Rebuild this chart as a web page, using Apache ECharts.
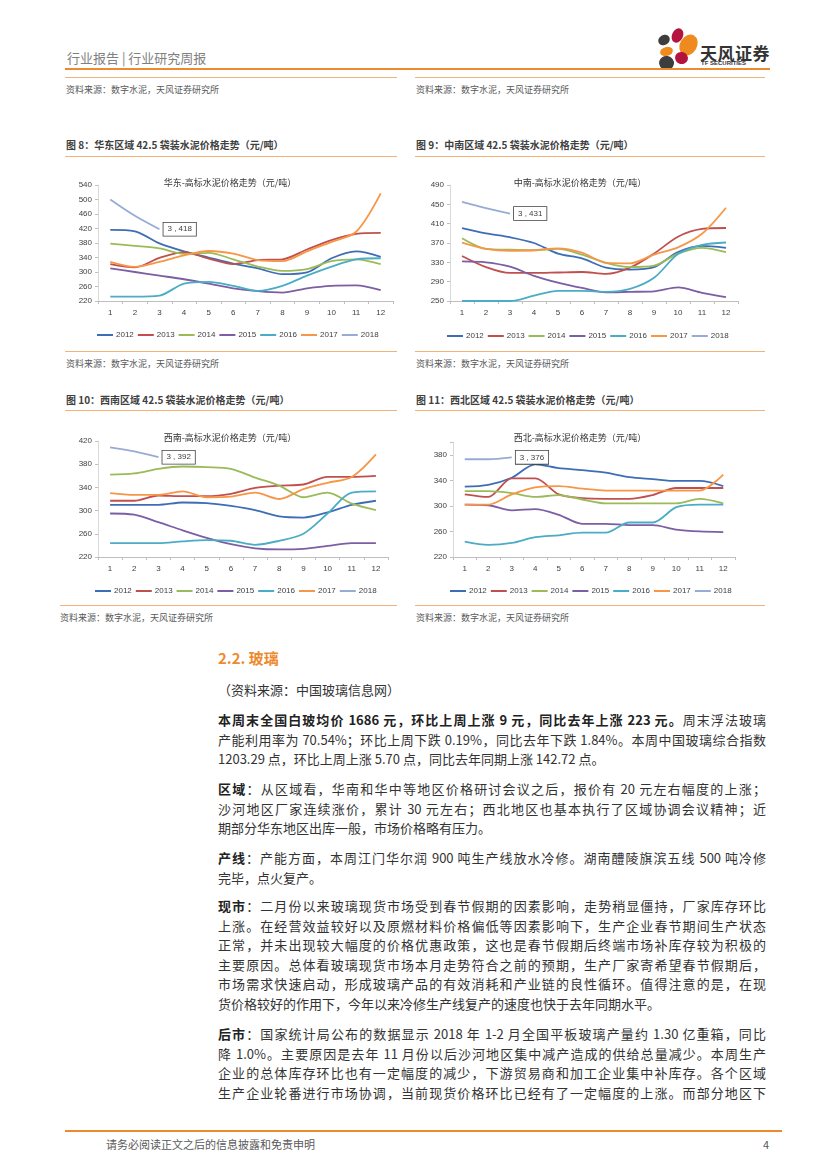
<!DOCTYPE html>
<html><head><meta charset="utf-8">
<script src="https://cdn.jsdelivr.net/npm/echarts@6/dist/echarts.min.js"></script>
<style>
body{margin:0;background:#fff;}
#page{position:relative;width:827px;height:1169px;overflow:hidden;font-family:"Noto Sans CJK SC","Noto Sans",sans-serif;color:#333;}
.abs{position:absolute;white-space:nowrap;}
.hl{position:absolute;height:0;border-top:1px solid #f2b27a;}
.src{font-size:9px;color:#595959;line-height:12px;}
.ftitle{font-size:10px;font-weight:bold;color:#404040;line-height:12px;}
.chart{position:absolute;width:340px;height:185px;}
.para{position:absolute;left:218px;width:548px;font-size:13px;line-height:19.6px;color:#333;}
.para div{text-align:justify;text-align-last:justify;height:19.6px;overflow:visible;}
.para div.last{text-align-last:left;}
.para b{color:#222;}
.petal{position:absolute;border-radius:50%;}
</style></head>
<body><div id="page">

<div class="abs" style="left:67px;top:48px;font-size:13px;color:#808080;">行业报告 | 行业研究周报</div>
<div class="petal" style="left:672px;top:28px;width:11px;height:15px;background:#b3133c;transform:rotate(25deg);"></div>
<div class="petal" style="left:658px;top:35px;width:12px;height:10px;background:#3d3d3d;transform:rotate(-30deg);"></div>
<div class="petal" style="left:680px;top:34px;width:17px;height:22px;background:#ee8a1e;transform:rotate(30deg);"></div>
<div class="petal" style="left:660px;top:47px;width:13px;height:9px;background:#ee8a1e;transform:rotate(-15deg);"></div>
<div class="petal" style="left:675px;top:52px;width:13px;height:12px;background:#b3133c;transform:rotate(20deg);"></div>
<div class="petal" style="left:659px;top:56px;width:15px;height:14px;background:#3d3d3d;transform:rotate(10deg);"></div>
<div class="abs" style="left:700px;top:40px;font-size:17px;font-weight:bold;color:#333;letter-spacing:0.5px;">天风证券</div>
<div class="abs" style="left:701px;top:60px;font-size:6px;font-weight:bold;color:#333;font-family:'Liberation Sans',Arial,sans-serif;">TF SECURITIES</div>
<div style="position:absolute;left:65px;top:68px;width:705px;height:2px;background:#ee8a2e;"></div>

<div class="hl" style="left:65px;top:77px;width:332px;"></div>
<div class="hl" style="left:415px;top:77px;width:350px;"></div>
<div class="abs src" style="left:66px;top:84px;">资料来源：数字水泥，天风证券研究所</div>
<div class="abs src" style="left:416px;top:84px;">资料来源：数字水泥，天风证券研究所</div>

<div class="abs ftitle" style="left:66px;top:139px;">图 8：华东区域 42.5 袋装水泥价格走势（元/吨）</div>
<div class="abs ftitle" style="left:416px;top:139px;">图 9：中南区域 42.5 袋装水泥价格走势（元/吨）</div>
<div class="hl" style="left:65px;top:156px;width:332px;"></div>
<div class="hl" style="left:415px;top:156px;width:350px;"></div>

<div id="c1" class="chart" style="left:60px;top:160px;"></div>
<div id="c2" class="chart" style="left:410px;top:160px;"></div>

<div class="hl" style="left:65px;top:351px;width:332px;"></div>
<div class="hl" style="left:415px;top:351px;width:350px;"></div>
<div class="abs src" style="left:66px;top:358px;">资料来源：数字水泥，天风证券研究所</div>
<div class="abs src" style="left:416px;top:358px;">资料来源：数字水泥，天风证券研究所</div>

<div class="abs ftitle" style="left:66px;top:394px;">图 10：西南区域 42.5 袋装水泥价格走势（元/吨）</div>
<div class="abs ftitle" style="left:416px;top:394px;">图 11：西北区域 42.5 袋装水泥价格走势（元/吨）</div>
<div class="hl" style="left:65px;top:410px;width:332px;"></div>
<div class="hl" style="left:415px;top:410px;width:350px;"></div>

<div id="c3" class="chart" style="left:60px;top:415px;"></div>
<div id="c4" class="chart" style="left:410px;top:415px;"></div>

<div class="hl" style="left:60px;top:605px;width:337px;"></div>
<div class="hl" style="left:415px;top:605px;width:350px;"></div>
<div class="abs src" style="left:60px;top:612px;">资料来源：数字水泥，天风证券研究所</div>
<div class="abs src" style="left:416px;top:612px;">资料来源：数字水泥，天风证券研究所</div>

<div class="abs" style="left:218px;top:647px;font-size:15px;font-weight:bold;color:#ee8a2e;">2.2. 玻璃</div>
<div class="abs" style="left:218px;top:680px;font-size:13px;color:#333;">（资料来源：中国玻璃信息网）</div>

<div class="para" style="top:710px;">
<div><b>本周末全国白玻均价 1686 元，环比上周上涨 9 元，同比去年上涨 223 元。</b>周末浮法玻璃</div>
<div>产能利用率为 70.54%；环比上周下跌 0.19%，同比去年下跌 1.84%。本周中国玻璃综合指数</div>
<div class="last">1203.29 点，环比上周上涨 5.70 点，同比去年同期上涨 142.72 点。</div>
</div>

<div class="para" style="top:779px;">
<div><b>区域</b>：从区域看，华南和华中等地区价格研讨会议之后，报价有 20 元左右幅度的上涨；</div>
<div>沙河地区厂家连续涨价，累计 30 元左右；西北地区也基本执行了区域协调会议精神；近</div>
<div class="last">期部分华东地区出库一般，市场价格略有压力。</div>
</div>

<div class="para" style="top:848px;">
<div><b>产线</b>：产能方面，本周江门华尔润 900 吨生产线放水冷修。湖南醴陵旗滨五线 500 吨冷修</div>
<div class="last">完毕，点火复产。</div>
</div>

<div class="para" style="top:896px;">
<div><b>现市</b>：二月份以来玻璃现货市场受到春节假期的因素影响，走势稍显僵持，厂家库存环比</div>
<div>上涨。在经营效益较好以及原燃材料价格偏低等因素影响下，生产企业春节期间生产状态</div>
<div>正常，并未出现较大幅度的价格优惠政策，这也是春节假期后终端市场补库存较为积极的</div>
<div>主要原因。总体看玻璃现货市场本月走势符合之前的预期，生产厂家寄希望春节假期后，</div>
<div>市场需求快速启动，形成玻璃产品的有效消耗和产业链的良性循环。值得注意的是，在现</div>
<div class="last">货价格较好的作用下，今年以来冷修生产线复产的速度也快于去年同期水平。</div>
</div>

<div class="para" style="top:1024px;">
<div><b>后市</b>：国家统计局公布的数据显示 2018 年 1-2 月全国平板玻璃产量约 1.30 亿重箱，同比</div>
<div>降 1.0%。主要原因是去年 11 月份以后沙河地区集中减产造成的供给总量减少。本周生产</div>
<div>企业的总体库存环比也有一定幅度的减少，下游贸易商和加工企业集中补库存。各个区域</div>
<div>生产企业轮番进行市场协调，当前现货价格环比已经有了一定幅度的上涨。而部分地区下</div>
</div>

<div style="position:absolute;left:65px;top:1130px;width:717px;height:2px;background:#ee8a2e;"></div>
<div class="abs" style="left:106px;top:1136px;font-size:11px;color:#595959;">请务必阅读正文之后的信息披露和免责申明</div>
<div class="abs" style="left:763px;top:1136px;font-size:11px;color:#595959;">4</div>

</div>
<script>
const months = ['1','2','3','4','5','6','7','8','9','10','11','12'];
const years = ['2012','2013','2014','2015','2016','2017','2018'];

const east = [
  [416,412,379,357,340,323,310,294,299,338,357,342],
  [322,313,339,355,337,322,333,335,362,388,405,408],
  [378,372,365,350,353,335,315,303,308,330,335,322],
  [310,300,290,280,268,255,247,243,255,262,263,250],
  [232,232,235,268,273,262,248,262,290,315,335,338],
  [328,314,328,346,358,351,333,330,357,383,411,517],
  [500,455,418]
];
const central = [
  [401,390,382,370,348,338,319,315,320,351,364,360],
  [343,320,308,308,309,310,306,319,348,383,399,401],
  [380,358,356,355,358,346,329,320,323,348,360,351],
  [332,330,321,302,288,277,268,269,270,278,267,258],
  [250,250,250,261,271,271,269,275,298,347,366,371],
  [371,358,354,355,359,350,329,328,346,361,389,443],
  [455,442,431]
];
const southwest = [
  [310,310,310,314,313,308,301,290,288,297,310,317],
  [317,317,326,325,325,329,339,343,345,358,358,360],
  [362,364,372,376,375,372,357,343,323,331,312,301],
  [295,293,280,266,253,242,235,233,234,239,244,244],
  [244,244,244,247,249,248,241,248,260,295,331,333],
  [330,327,327,333,323,324,331,320,337,348,358,397],
  [409,402,392]
];
const northwest = [
  [330,333,344,365,359,356,352,345,342,339,339,331],
  [318,314,343,343,318,312,311,311,317,328,328,328],
  [323,323,320,314,317,310,304,304,304,304,311,304],
  [302,301,293,295,286,272,272,270,270,263,260,259],
  [244,239,242,251,254,258,258,274,274,298,302,302],
  [302,302,318,329,331,327,324,324,324,324,324,349],
  [373,373,376]
];

const palette = ['#3d6eb5','#c0504d','#9bbb59','#7b5ea3','#4bacc6','#f79646','#98acd3'];
const axisFont = '"Liberation Sans", Arial, sans-serif';

function build(id, title, rows, yMin, yMax, grid, legendLeft, legendTop) {
  const chart = echarts.init(document.getElementById(id));
  const series = years.map((y, i) => {
    const isLast = i === years.length - 1;
    const data = rows[i].map((v, j) => {
      if (isLast && j === rows[i].length - 1) {
        return {
          value: v,
          label: {
            show: true, position: 'right', distance: 4,
            formatter: p => p.name + ' , ' + p.value,
            fontSize: 8, fontFamily: axisFont, color: '#404040',
            backgroundColor: '#fff', borderColor: '#404040', borderWidth: 0.8,
            padding: [3, 4, 2, 4]
          }
        };
      }
      return v;
    });
    return {
      name: y, type: 'line', data: data, smooth: 0.3,
      symbol: 'circle', symbolSize: 0, showSymbol: isLast,
      lineStyle: { width: 1.8, color: palette[i] },
      itemStyle: { color: palette[i] },
      emphasis: { disabled: true },
      z: isLast ? 5 : 2
    };
  });
  chart.setOption({
    animation: false,
    color: palette,
    title: {
      text: title, left: 'center', top: 13,
      textStyle: { fontSize: 9, fontWeight: 'normal', color: '#333', fontFamily: '"Noto Sans CJK SC", sans-serif' }
    },
    grid: grid,
    legend: {
      left: legendLeft, top: legendTop, icon: 'rect', itemWidth: 16, itemHeight: 2,
      itemGap: 4, textStyle: { fontSize: 8, color: '#404040', fontFamily: axisFont, padding: [0, 0, 0, -2] },
      data: years
    },
    xAxis: {
      type: 'category', data: months, boundaryGap: true,
      axisLine: { lineStyle: { color: '#bfbfbf', width: 1 } },
      axisTick: { show: true, length: 3, lineStyle: { color: '#bfbfbf' } },
      axisLabel: { fontSize: 8, color: '#404040', fontFamily: axisFont, margin: 8 }
    },
    yAxis: {
      type: 'value', min: yMin, max: yMax, interval: 40,
      axisLine: { show: true, lineStyle: { color: '#d9d9d9', width: 1 } },
      axisTick: { show: true, length: 3, lineStyle: { color: '#bfbfbf' } },
      splitLine: { show: false },
      axisLabel: {
        fontSize: 8, color: '#404040', fontFamily: axisFont, margin: 6,
        formatter: v => ((v - yMin) % 40 === 0 ? String(v) : '')
      }
    },
    series: series
  });
}

build('c1', '华东-高标水泥价格走势（元/吨）', east, 220, 540, { left: 38, top: 25, width: 295, height: 116 }, 32, 166);
build('c2', '中南-高标水泥价格走势（元/吨）', central, 250, 490, { left: 40, top: 25, width: 288, height: 116 }, 32, 167);
build('c3', '西南-高标水泥价格走势（元/吨）', southwest, 220, 420, { left: 38, top: 26, width: 290, height: 116 }, 30, 167);
build('c4', '西北-高标水泥价格走势（元/吨）', northwest, 220, 400, { left: 43, top: 27, width: 282, height: 115 }, 35, 167);
</script>
</body></html>
